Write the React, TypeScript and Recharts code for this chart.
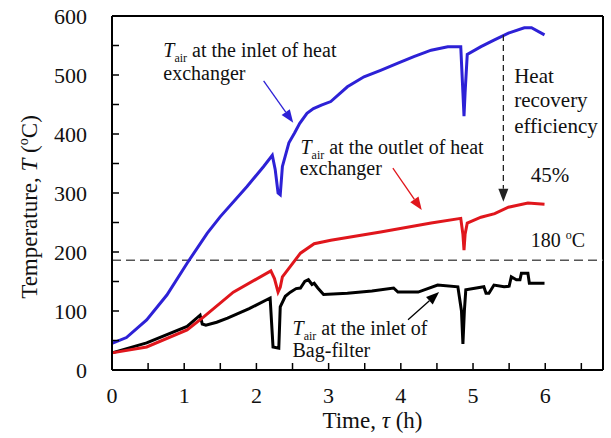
import React from "react";
import { LineChart, Line, XAxis, YAxis, ReferenceLine, ReferenceDot, Label } from "recharts";

// time (h) and temperature (oC)
const inletTime = [0, 0.2, 0.48, 0.76, 1.04, 1.32, 1.5, 1.87, 2.1, 2.22, 2.26, 2.3, 2.33, 2.36, 2.45, 2.53, 2.6, 2.7, 2.79, 2.9, 3.03, 3.26, 3.49, 3.72, 3.96, 4.18, 4.42, 4.65, 4.83, 4.86, 4.875, 4.89, 4.92, 5.11, 5.29, 5.49, 5.71, 5.81, 5.99];
const inletTemp = [45, 55, 85, 127, 181, 232, 260, 311, 345, 364, 340, 300, 297, 345, 385, 402, 418, 435, 443, 449, 455, 480, 497, 508, 520, 531, 542, 548, 548, 470, 430, 470, 535, 548, 559, 571, 580, 580, 568];

const outletTime = [0, 0.48, 1.04, 1.27, 1.68, 2.2, 2.25, 2.3, 2.33, 2.36, 2.61, 2.8, 3.03, 3.72, 4.42, 4.83, 4.86, 4.875, 4.89, 4.92, 5.11, 5.3, 5.49, 5.76, 5.99];
const outletTemp = [29, 39, 68, 90, 132, 168, 155, 132, 140, 158, 198, 214, 220, 234, 249, 257, 230, 203, 230, 249, 259, 265, 276, 283, 281];

const bagTime = [0, 0.48, 1.04, 1.22, 1.25, 1.3, 1.45, 1.6, 1.9, 2.19, 2.22, 2.23, 2.31, 2.33, 2.4, 2.47, 2.55, 2.61, 2.67, 2.72, 2.77, 2.8, 2.85, 2.93, 3.26, 3.6, 3.9, 3.96, 4.24, 4.51, 4.79, 4.84, 4.86, 4.88, 4.9, 5.15, 5.18, 5.22, 5.29, 5.43, 5.5, 5.53, 5.6, 5.65, 5.67, 5.76, 5.78, 5.99];
const bagTemp = [29, 46, 74, 93, 78, 76, 81, 88, 104, 122, 60, 39, 37, 107, 125, 132, 138, 139, 150, 153, 145, 147, 139, 128, 130, 134, 139, 132, 132, 144, 141, 100, 44, 100, 136, 141, 130, 130, 144, 141, 142, 158, 153, 153, 164, 164, 147, 147];

const xTicks = [0, 0.5, 1, 1.5, 2, 2.5, 3, 3.5, 4, 4.5, 5, 5.5, 6, 6.5];
const yTicks = [0, 50, 100, 150, 200, 250, 300, 350, 400, 450, 500, 550, 600];

const limitTemp = 186;
const efficiencyTime = 5.42;
const efficiencyTop = 568;
const efficiencyBottom = 285;

const rows = (ts: number[], vs: number[]) => ts.map((t, i) => ({ t, v: vs[i] }));

const serif = "'Liberation Serif', 'Times New Roman', serif";
const BLUE = "#2d21d6";
const RED = "#e0161c";

const arrowShape = (color: string, dash?: string, width = 1.3) => (p: any) => {
  const { x1, y1, x2, y2 } = p;
  const a = Math.atan2(y2 - y1, x2 - x1);
  const len = 13, half = 5;
  const bx = x2 - len * Math.cos(a);
  const by = y2 - len * Math.sin(a);
  const pts = [
    [x2, y2],
    [bx + half * Math.sin(a), by - half * Math.cos(a)],
    [bx - half * Math.sin(a), by + half * Math.cos(a)],
  ].map((q) => q.join(",")).join(" ");
  return (
    <g>
      <line x1={x1} y1={y1} x2={bx} y2={by} stroke={color} strokeWidth={width} strokeDasharray={dash} />
      <polygon points={pts} fill={color} />
    </g>
  );
};

const airText = (rest: string) => (p: any) => (
  <text x={p.cx} y={p.cy} fontFamily={serif} fontSize={20} fill="#111">
    <tspan fontStyle="italic">T</tspan>
    <tspan fontSize={12} dy={5}>air</tspan>
    <tspan dy={-5}>{rest}</tspan>
  </text>
);

const plainText = (s: string, size = 20) => (p: any) => (
  <text x={p.cx} y={p.cy} fontFamily={serif} fontSize={size} fill="#111">{s}</text>
);

const degText = (p: any) => (
  <text x={p.cx} y={p.cy} fontFamily={serif} fontSize={20} fill="#111">
    180 <tspan fontSize={12} dy={-8}>o</tspan><tspan dy={8}>C</tspan>
  </text>
);

const YTitle = (props: any) => {
  const vb = props.viewBox || { x: 12, y: 16, width: 100, height: 354 };
  const cx = vb.x + 25;
  const cy = vb.y + vb.height / 2 + 14;
  return (
    <text x={cx} y={cy} transform={`rotate(-90 ${cx} ${cy})`} textAnchor="middle" fontFamily={serif} fontSize={23} fill="#111">
      Temperature, <tspan fontStyle="italic">T</tspan> (<tspan fontSize={14} dy={-9}>o</tspan><tspan dy={9}>C)</tspan>
    </text>
  );
};

const XTitle = (props: any) => {
  const vb = props.viewBox || { x: 112, y: 370, width: 491, height: 60 };
  return (
    <text x={vb.x + vb.width / 2 + 15} y={vb.y + 58} textAnchor="middle" fontFamily={serif} fontSize={23} fill="#111">
      Time, <tspan fontStyle="italic">τ</tspan> (h)
    </text>
  );
};

const tickStyle = { fontFamily: serif, fontSize: 22, fill: "#111" };

export default function App() {
  return (
    <div style={{ position: "absolute", left: 0, top: 0, background: "#fff" }}>
      <LineChart width={611} height={438} margin={{ top: 16, right: 8, bottom: 8, left: 12 }}>
        <XAxis
          dataKey="t"
          type="number"
          domain={[0, 6.8]}
          ticks={xTicks}
          interval={0}
          tickFormatter={(v: number) => (Number.isInteger(v) ? String(v) : "")}
          height={60}
          tickSize={-7}
          tickMargin={24}
          tick={tickStyle}
          axisLine={{ stroke: "#000", strokeWidth: 2 }}
          tickLine={{ stroke: "#000", strokeWidth: 1.5 }}
        >
          <Label content={XTitle} />
        </XAxis>
        <YAxis
          type="number"
          domain={[0, 600]}
          ticks={yTicks}
          interval={0}
          tickFormatter={(v: number) => (v % 100 === 0 ? String(v) : "")}
          width={100}
          tickSize={-7}
          tickMargin={32}
          tick={tickStyle}
          axisLine={{ stroke: "#000", strokeWidth: 2 }}
          tickLine={{ stroke: "#000", strokeWidth: 1.5 }}
        >
          <Label content={YTitle} />
        </YAxis>

        <ReferenceLine y={600} stroke="#000" strokeWidth={2} />
        <ReferenceLine x={6.8} stroke="#000" strokeWidth={2} />
        <ReferenceLine y={limitTemp} stroke="#555" strokeWidth={1.5} strokeDasharray="9 5" />

        <Line data={rows(bagTime, bagTemp)} dataKey="v" type="linear" stroke="#000" strokeWidth={3} dot={false} isAnimationActive={false} />
        <Line data={rows(outletTime, outletTemp)} dataKey="v" type="linear" stroke={RED} strokeWidth={3} dot={false} isAnimationActive={false} />
        <Line data={rows(inletTime, inletTemp)} dataKey="v" type="linear" stroke={BLUE} strokeWidth={3} dot={false} isAnimationActive={false} />

        <ReferenceLine
          segment={[{ x: efficiencyTime, y: efficiencyTop }, { x: efficiencyTime, y: efficiencyBottom }]}
          shape={arrowShape("#222", "6 4", 1.3)}
        />
        <ReferenceLine segment={[{ x: 2.1, y: 490 }, { x: 2.51, y: 419 }]} shape={arrowShape(BLUE)} />
        <ReferenceLine segment={[{ x: 3.89, y: 342 }, { x: 4.29, y: 271 }]} shape={arrowShape(RED)} />
        <ReferenceLine segment={[{ x: 4.1, y: 85 }, { x: 4.53, y: 132 }]} shape={arrowShape("#000")} />

        <ReferenceDot x={0.71} y={530} shape={airText(" at the inlet of heat")} />
        <ReferenceDot x={0.71} y={491} shape={plainText("exchanger")} />
        <ReferenceDot x={2.61} y={366} shape={airText(" at the outlet of heat")} />
        <ReferenceDot x={2.6} y={331} shape={plainText("exchanger")} />
        <ReferenceDot x={2.5} y={59} shape={airText(" at the inlet of")} />
        <ReferenceDot x={2.5} y={22} shape={plainText("Bag-filter")} />
        <ReferenceDot x={5.57} y={486} shape={plainText("Heat", 21)} />
        <ReferenceDot x={5.57} y={446} shape={plainText("recovery", 21)} />
        <ReferenceDot x={5.57} y={402} shape={plainText("efficiency", 21)} />
        <ReferenceDot x={5.8} y={319} shape={plainText("45%", 21)} />
        <ReferenceDot x={5.8} y={208} shape={degText} />
      </LineChart>
    </div>
  );
}
